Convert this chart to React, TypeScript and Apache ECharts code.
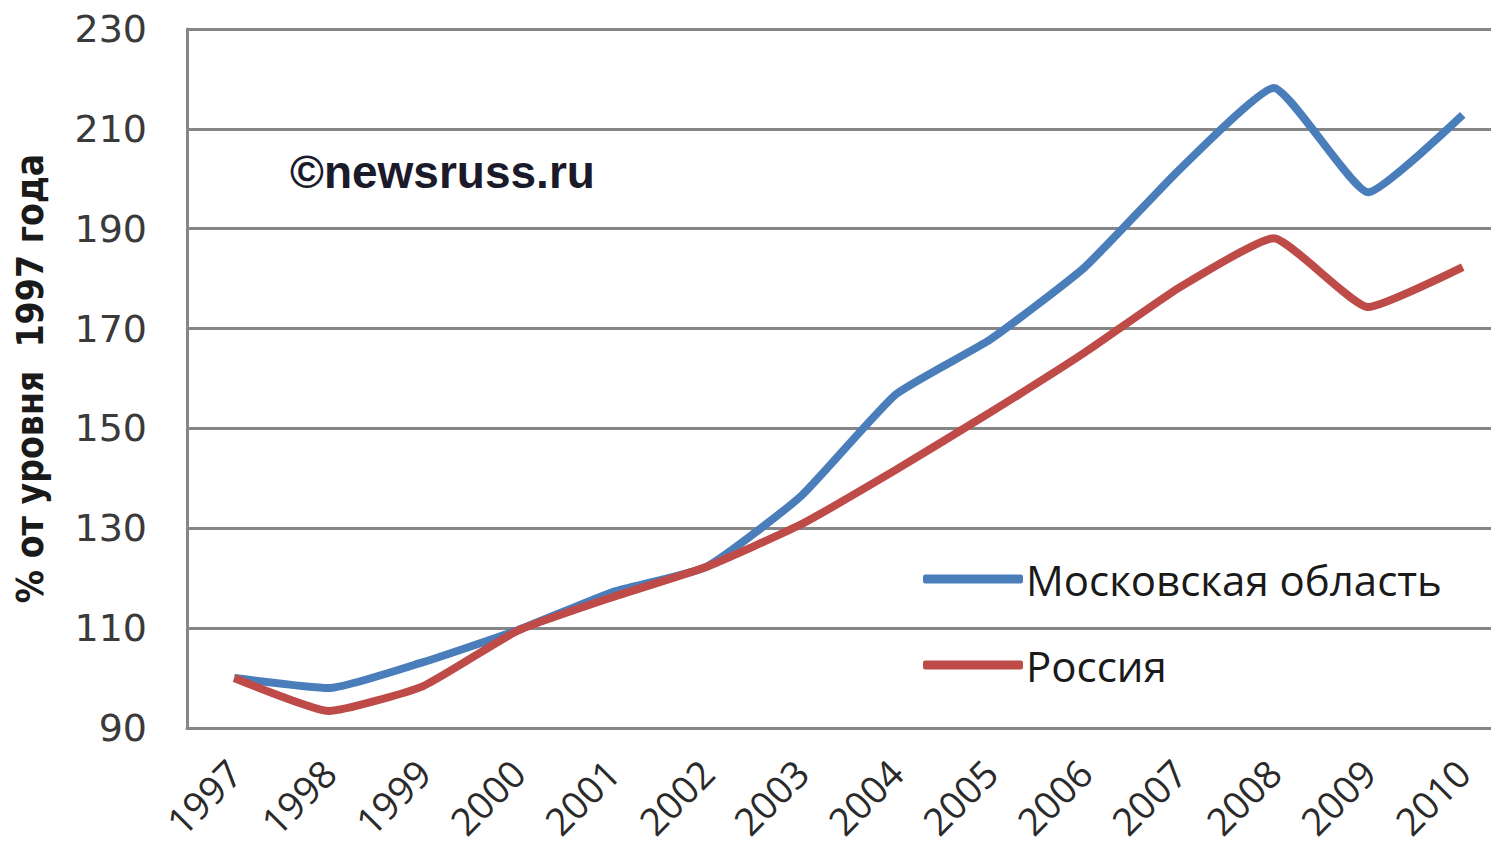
import React, { useEffect, useRef } from "react";
import * as echarts from "echarts";

const years = ["1997", "1998", "1999", "2000", "2001", "2002", "2003", "2004", "2005", "2006", "2007", "2008", "2009", "2010"];
const moscowRegion = [100, 98, 103.2, 109.6, 117.2, 122.3, 136.5, 156.8, 167.8, 182.3, 201.8, 218.2, 197.3, 212.8];
const russia = [100, 93.4, 98.4, 109.5, 116.2, 122.3, 130.8, 141.7, 153.2, 165.2, 178.2, 188.1, 174.3, 182.3];
const yTicks = { min: 90, max: 230, step: 20 };
const seriesNames = ["Московская область", "Россия"];
const yTitle = "% от уровня  1997 года";
const watermark = "©newsruss.ru";

export default function App() {
  const ref = useRef<HTMLDivElement>(null);
  useEffect(() => {
    if (!ref.current) return;
    const chart = echarts.init(ref.current, null, { renderer: "svg" });
    chart.setOption({
      animation: false,
      backgroundColor: "#ffffff",
      grid: { left: 187, top: 29, right: 0, bottom: 134, containLabel: false },
      xAxis: {
        type: "category",
        data: years,
        boundaryGap: true,
        axisLine: { show: true, lineStyle: { color: "#868686", width: 3 } },
        axisTick: { show: false },
        axisLabel: {
          rotate: 45,
          margin: 38,
          fontFamily: "Open Sans",
          fontSize: 38,
          lineHeight: 40,
          color: "#2a2a2a",
          interval: 0,
        },
      },
      yAxis: {
        type: "value",
        min: yTicks.min,
        max: yTicks.max,
        interval: yTicks.step,
        name: yTitle,
        nameLocation: "middle",
        nameRotate: 90,
        nameGap: 138,
        nameTextStyle: {
          fontFamily: "DejaVu Sans Condensed",
          fontWeight: "bold",
          fontSize: 37,
          color: "#1a1a1a",
        },
        axisLine: { show: true, lineStyle: { color: "#868686", width: 3 } },
        axisTick: { show: false },
        splitLine: { show: true, lineStyle: { color: "#868686", width: 3 } },
        axisLabel: {
          margin: 40,
          fontFamily: "DejaVu Sans",
          fontSize: 38,
          color: "#3a3a3a",
        },
      },
      legend: {
        orient: "vertical",
        left: 918,
        top: 553,
        itemWidth: 100,
        itemHeight: 9,
        itemGap: 44,
        icon: "roundRect",
        data: seriesNames,
        textStyle: {
          fontFamily: "Open Sans",
          fontSize: 42,
          color: "#1a1a1a",
          padding: [0, 0, 0, -2],
        },
      },
      graphic: [
        {
          type: "text",
          left: 290,
          top: 149,
          style: {
            text: watermark,
            font: "bold 46px 'Liberation Sans'",
            fill: "#1a1a2a",
          },
        },
      ],
      series: [
        {
          name: seriesNames[0],
          type: "line",
          data: moscowRegion,
          smooth: 0.15,
          symbol: "none",
          lineStyle: { color: "#4a7ebb", width: 8 },
          itemStyle: { color: "#4a7ebb" },
        },
        {
          name: seriesNames[1],
          type: "line",
          data: russia,
          smooth: 0.15,
          symbol: "none",
          lineStyle: { color: "#be4b48", width: 8 },
          itemStyle: { color: "#be4b48" },
        },
      ],
    });
    return () => chart.dispose();
  }, []);
  return (
    <div style={{ position: "fixed", left: 0, top: 0, width: 1491, height: 862, overflow: "hidden", background: "#fff" }}>
      <div ref={ref} style={{ width: 1510, height: 862 }} />
    </div>
  );
}
